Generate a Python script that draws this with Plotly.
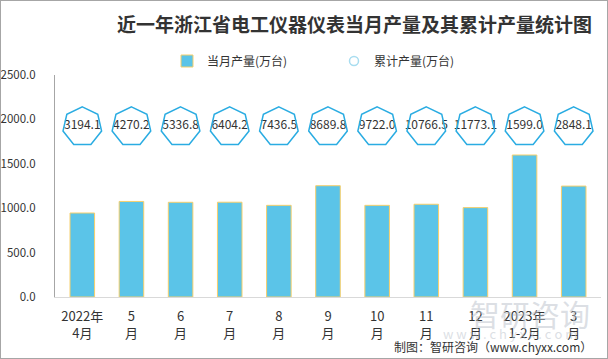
import math
import plotly.graph_objects as go

categories = ["2022年<br>4月", "5<br>月", "6<br>月", "7<br>月", "8<br>月", "9<br>月",
              "10<br>月", "11<br>月", "12<br>月", "2023年<br>1-2月", "3<br>月"]
monthly = [946.0, 1076.1, 1066.6, 1067.4, 1032.3, 1253.3, 1032.2, 1044.5, 1006.6, 1599.0, 1249.1]
cumulative = [3194.1, 4270.2, 5336.8, 6404.2, 7436.5, 8689.8, 9722.0, 10766.5, 11773.1, 1599.0, 2848.1]
y_ticks = [0, 500, 1000, 1500, 2000, 2500]

W, H = 608, 359
LABEL_LEVEL = 1930
FONT = "Noto Sans CJK SC"

fig = go.Figure()
fig.add_trace(go.Bar(
    x=categories, y=monthly, name="当月产量(万台)",
    marker=dict(color="#5BC4E8", line=dict(color="#F7CF6B", width=1)),
    width=0.5,
))
fig.add_trace(go.Scatter(
    x=categories, y=[LABEL_LEVEL] * len(categories), mode="text",
    text=[f"{v:.1f}" for v in cumulative], textposition="middle center",
    textfont=dict(size=12, color="#333333", family=FONT),
    showlegend=False, hoverinfo="skip",
))
fig.add_trace(go.Scatter(
    x=[None], y=[None], mode="markers", name="累计产量(万台)",
    marker=dict(symbol="circle-open", size=9, color="#A8DDF0", line=dict(width=1.5)),
))

# heptagon outlines around cumulative labels (pixel-sized, anchored on data)
R = 19.8
pts = []
for k in range(7):
    t = 2 * math.pi * k / 7
    pts.append((R * math.sin(t), R * math.cos(t) - 1.0))
path = "M " + " L ".join(f"{x:.2f},{y:.2f}" for x, y in pts) + " Z"
for i in range(len(categories)):
    fig.add_shape(type="path", xref="x", yref="y", xsizemode="pixel", ysizemode="pixel",
                  xanchor=i, yanchor=LABEL_LEVEL, path=path,
                  line=dict(color="#2AACE2", width=1.5), fillcolor="rgba(0,0,0,0)")

# outer frame
fig.add_shape(type="rect", xref="paper", yref="paper", x0=0, y0=0, x1=1, y1=1,
              line=dict(color="#A6A6A6", width=2))

fig.add_annotation(text="<b>近一年浙江省电工仪器仪表当月产量及其累计产量统计图</b>",
                   xref="paper", yref="paper", x=354 / W, y=1 - 24 / H, showarrow=False,
                   xanchor="center", yanchor="middle",
                   font=dict(size=19, color="#333333", family=FONT))
# watermark
fig.add_annotation(text="智研咨询", xref="paper", yref="paper", x=530 / W, y=1 - 313 / H,
                   showarrow=False, xanchor="center", yanchor="middle",
                   font=dict(size=30, color="rgba(190,196,205,0.55)", family=FONT))
fig.add_annotation(text="w w w . c h y x x . c o m", xref="paper", yref="paper", x=510 / W,
                   y=1 - 333 / H, showarrow=False, xanchor="center", yanchor="middle",
                   font=dict(size=13, color="rgba(190,196,205,0.55)", family=FONT))
fig.add_annotation(text="制图：智研咨询（www.chyxx.com）", xref="paper", yref="paper",
                   x=594 / W, y=1 - 346 / H, showarrow=False, xanchor="right", yanchor="middle",
                   font=dict(size=12, color="#333333", family=FONT))

fig.update_layout(
    width=W, height=H, margin=dict(l=0, r=0, t=0, b=0),
    paper_bgcolor="white", plot_bgcolor="white",
    font=dict(family=FONT, color="#333333", size=13),
    bargap=0.5,
    legend=dict(orientation="h", x=167 / W, y=1 - 61 / H, xanchor="left", yanchor="middle",
                font=dict(size=12, color="#333333", family=FONT),
                entrywidth=122, itemwidth=30, bgcolor="rgba(0,0,0,0)"),
    xaxis=dict(domain=[55 / W, 601 / W], type="category", showgrid=False,
               showline=True, linecolor="#D9D9D9", linewidth=1, ticks="",
               ticklabelstandoff=7,
               tickfont=dict(size=13, color="#333333"), automargin=False, fixedrange=True),
    yaxis=dict(domain=[62 / H, 284 / H], range=[0, 2500], tickvals=y_ticks,
               tickformat=".1f", showgrid=False, zeroline=False,
               showline=True, linecolor="#A6A6A6", linewidth=1, ticks="",
               ticklabelstandoff=16, tickfont=dict(size=11.5, color="#333333"),
               automargin=False, fixedrange=True),
)

fig.write_html("out.html", config={"displayModeBar": False},
               post_script="document.body.style.margin='0';")
